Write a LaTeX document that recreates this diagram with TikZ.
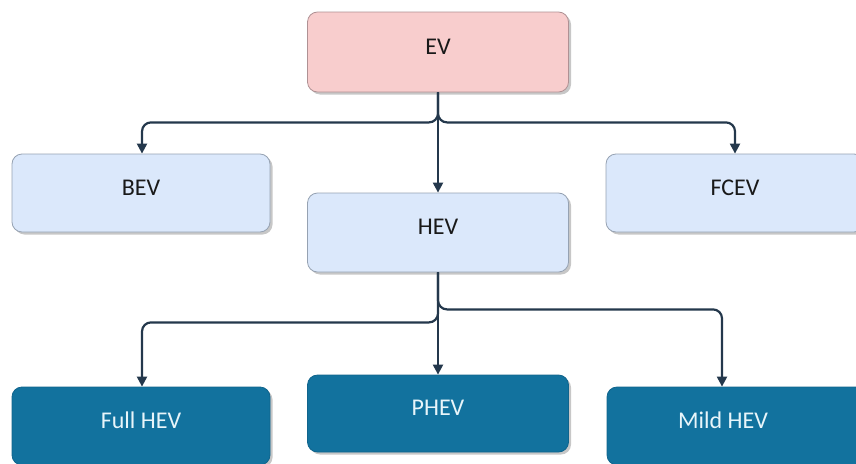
\documentclass[tikz,border=0pt]{standalone}
\usepackage{fontspec}
\setmainfont{Carlito}
\usetikzlibrary{arrows.meta,shadows}
\definecolor{evfill}{RGB}{248,205,205}
\definecolor{evline}{RGB}{175,145,148}
\definecolor{lbfill}{RGB}{219,232,251}
\definecolor{lbline}{RGB}{150,162,178}
\definecolor{dkfill}{RGB}{18,114,158}
\definecolor{dkline}{RGB}{16,100,140}
\definecolor{dktext}{RGB}{232,245,250}
\definecolor{conn}{RGB}{36,56,76}
\tikzset{
  box/.style={rounded corners=10pt, minimum width=258pt, minimum height=78pt,
    inner sep=0pt, line width=0.8pt, text height=16pt, text depth=11.5pt,
    font=\fontsize{24}{28}\selectfont,
    drop shadow={shadow xshift=2.5pt, shadow yshift=-2.5pt, fill=black, opacity=0.22}},
  pinkbox/.style={box, fill=evfill, draw=evline, text=black!90},
  lightbox/.style={box, fill=lbfill, draw=lbline, text=black!90},
  darkbox/.style={box, fill=dkfill, draw=dkline, text=dktext},
  conn/.style={draw=conn, line width=2.2pt, rounded corners=9pt,
    -{Triangle[length=10pt,width=10pt]}}
}
\begin{document}
\begin{tikzpicture}[x=1pt,y=-1pt]
\useasboundingbox (0,0) rectangle (856,463);
\node[pinkbox, minimum width=261pt, minimum height=80pt] (EV) at (438,52) {EV};
\node[lightbox] (BEV) at (141,193) {BEV};
\node[lightbox] (FCEV) at (735,193) {FCEV};
\node[lightbox, minimum width=261pt, minimum height=79pt] (HEV) at (438,232.5) {HEV};
\node[darkbox] (FULL) at (141,426) {Full HEV};
\node[darkbox, minimum width=261pt, minimum height=77pt] (PHEV) at (438,413.5) {PHEV};
\node[darkbox] (MILD) at (736,426) {Mild HEV\hspace*{26pt}};
\coordinate (top) at ([yshift=-30pt]EV.south);
\coordinate (lowL) at ([yshift=-50pt]HEV.south);
\coordinate (lowR) at ([yshift=-37pt]HEV.south);
\coordinate (mildin) at ([xshift=-14pt]MILD.north);
\draw[conn] (EV.south) -- (top) -| ([xshift=1pt]BEV.north);
\draw[conn] (EV.south) -- (top) -| (FCEV.north);
\draw[conn] (EV.south) -- (HEV.north);
\draw[conn] (HEV.south) -- (lowL) -| ([xshift=1pt]FULL.north);
\draw[conn] (HEV.south) -- (lowR) -| (mildin);
\draw[conn] (HEV.south) -- (PHEV.north);
\end{tikzpicture}
\end{document}
